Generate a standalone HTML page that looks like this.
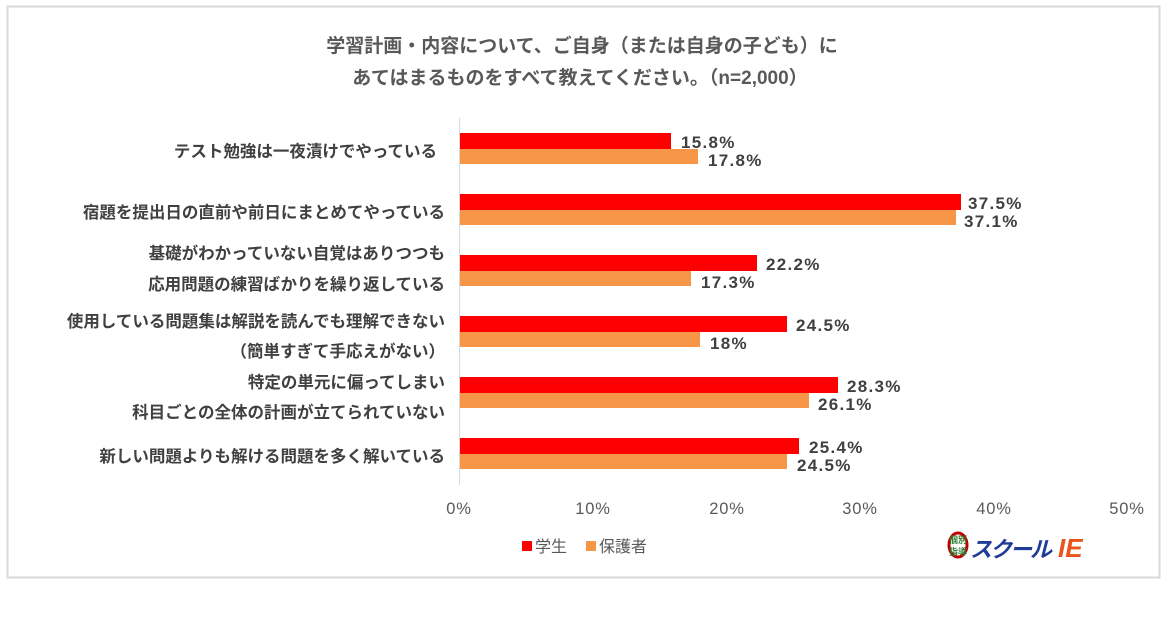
<!DOCTYPE html>
<html><head><meta charset="utf-8"><style>
body{margin:0;background:#fff;width:1169px;height:615px;overflow:hidden;font-family:"Liberation Sans","Noto Sans CJK JP",sans-serif;}
svg text{font-family:"Liberation Sans","Noto Sans CJK JP",sans-serif;}
</style></head><body>
<svg width="1169" height="615" xmlns="http://www.w3.org/2000/svg">
<rect x="7.5" y="6.5" width="1152" height="571" fill="#fff" stroke="#d9d9d9" stroke-width="2"/>
<g font-size="19" font-weight="bold" fill="#595959" text-anchor="middle">
<text x="582" y="52">学習計画・内容について、ご自身（または自身の子ども）に</text>
<text x="580" y="84">あてはまるものをすべて教えてください。（n=2,000）</text>
</g>
<line x1="459.5" y1="118" x2="459.5" y2="485" stroke="#d9d9d9"/>
<g font-size="16.5" font-weight="bold" fill="#404040" text-anchor="end">
<text x="437" y="157">テスト勉強は一夜漬けでやっている</text>
<text x="445" y="218">宿題を提出日の直前や前日にまとめてやっている</text>
<text x="445" y="259">基礎がわかっていない自覚はありつつも</text>
<text x="445" y="290">応用問題の練習ばかりを繰り返している</text>
<text x="445" y="327">使用している問題集は解説を読んでも理解できない</text>
<text x="445" y="357">（簡単すぎて手応えがない）</text>
<text x="445" y="388">特定の単元に偏ってしまい</text>
<text x="445" y="418">科目ごとの全体の計画が立てられていない</text>
<text x="445" y="462">新しい問題よりも解ける問題を多く解いている</text>
</g>
<g>
<rect x="460" y="133" width="211" height="16" fill="#ff0000"/><rect x="460" y="149" width="238" height="15" fill="#f79646"/>
<rect x="460" y="194" width="501" height="16" fill="#ff0000"/><rect x="460" y="210" width="496" height="15" fill="#f79646"/>
<rect x="460" y="255" width="297" height="16" fill="#ff0000"/><rect x="460" y="271" width="231" height="15" fill="#f79646"/>
<rect x="460" y="316" width="327" height="16" fill="#ff0000"/><rect x="460" y="332" width="240" height="15" fill="#f79646"/>
<rect x="460" y="377" width="378" height="16" fill="#ff0000"/><rect x="460" y="393" width="349" height="15" fill="#f79646"/>
<rect x="460" y="438" width="339" height="16" fill="#ff0000"/><rect x="460" y="454" width="327" height="15" fill="#f79646"/>
</g>
<g font-size="17" font-weight="bold" fill="#404040" letter-spacing="1.3">
<text x="681" y="148">15.8%</text><text x="708" y="166">17.8%</text>
<text x="968" y="209">37.5%</text><text x="964" y="227">37.1%</text>
<text x="766" y="270">22.2%</text><text x="701" y="288">17.3%</text>
<text x="796" y="331">24.5%</text><text x="710" y="349">18%</text>
<text x="847" y="392">28.3%</text><text x="818" y="410">26.1%</text>
<text x="809" y="453">25.4%</text><text x="797" y="471">24.5%</text>
</g>
<g font-size="16.5" fill="#595959" text-anchor="middle" letter-spacing="0.8">
<text x="459" y="514">0%</text><text x="593" y="514">10%</text><text x="727" y="514">20%</text>
<text x="860" y="514">30%</text><text x="994" y="514">40%</text><text x="1127" y="514">50%</text>
</g>
<rect x="522" y="541" width="10" height="10" fill="#ff0000"/>
<text x="535" y="552" font-size="16" fill="#595959">学生</text>
<rect x="586" y="541" width="10" height="10" fill="#f79646"/>
<text x="599" y="552" font-size="16" fill="#595959">保護者</text>
<g>
<ellipse cx="958" cy="545" rx="9" ry="12" fill="none" stroke="#c00000" stroke-width="3"/>
<text x="949" y="543" font-size="9" font-weight="bold" fill="#2e7d32">個別</text>
<text x="949" y="555" font-size="9" font-weight="bold" fill="#2e7d32">指導</text>
<text x="970" y="557" font-size="22" font-weight="bold" font-style="italic" fill="#1f3c99" letter-spacing="-2">スクール</text>
<text x="1058" y="557" font-size="26" font-weight="bold" font-style="italic" fill="#e8541a">IE</text>
</g>
</svg>
</body></html>
